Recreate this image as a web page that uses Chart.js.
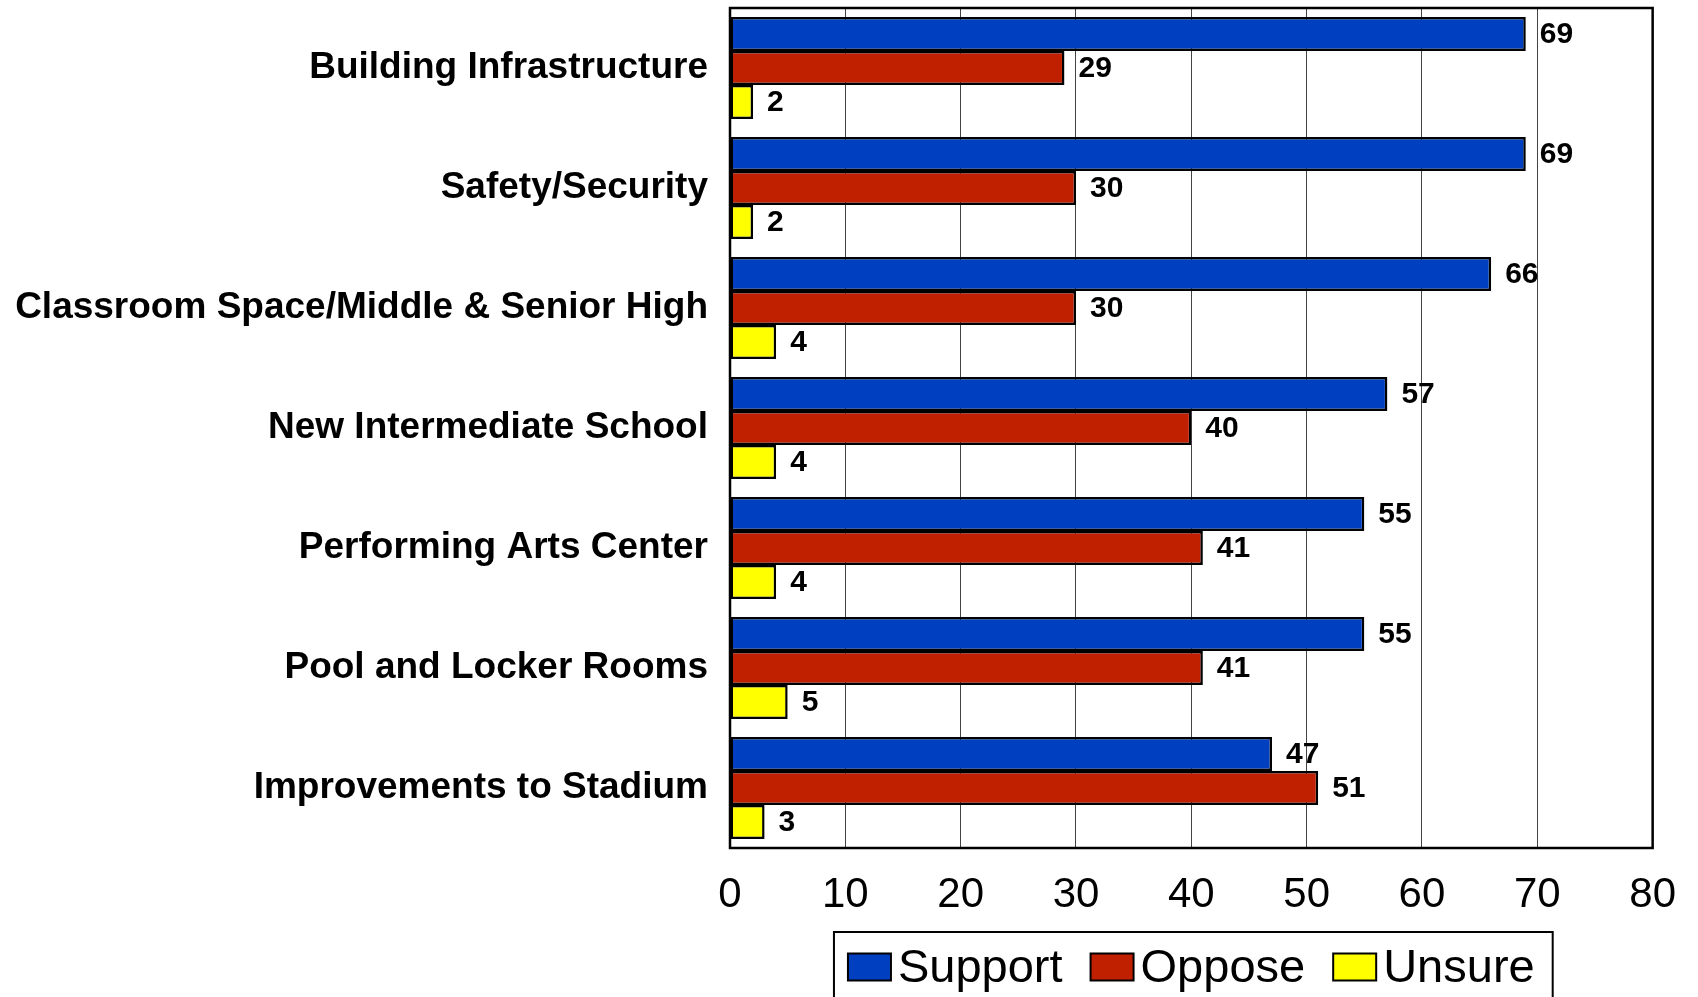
<!DOCTYPE html>
<html>
<head>
<meta charset="utf-8">
<script src="https://cdn.jsdelivr.net/npm/chart.js@4/dist/chart.umd.min.js"></script>
<style>
  body { margin: 0; background: #fff; }
  canvas { display: block; }
</style>
</head>
<body>
<canvas id="grafico" width="1698" height="997"></canvas>
<script>
// categorias e resultados (%)
const categorias = [
    "Building Infrastructure",
    "Safety/Security",
    "Classroom Space/Middle & Senior High",
    "New Intermediate School",
    "Performing Arts Center",
    "Pool and Locker Rooms",
    "Improvements to Stadium",
];
const support = [69, 69, 66, 57, 55, 55, 47];
const oppose = [29, 30, 30, 40, 41, 41, 51];
const unsure = [2, 2, 4, 4, 4, 5, 3];
const ticks_x = [0, 10, 20, 30, 40, 50, 60, 70, 80];

const fonte = "'Liberation Sans', Arial, sans-serif";

// moldura preta em volta da area do grafico
const moldura = {
    id: "moldura",
    afterDraw(chart) {
        const { ctx, chartArea: a } = chart;
        ctx.save();
        ctx.strokeStyle = "#000";
        ctx.lineWidth = 2.5;
        ctx.strokeRect(a.left, a.top, a.right - a.left, a.bottom - a.top);
        ctx.restore();
    },
};

// numeros ao lado de cada barra
const valores = {
    id: "valores",
    afterDatasetsDraw(chart) {
        const ctx = chart.ctx;
        ctx.save();
        ctx.font = "bold 30px " + fonte;
        ctx.fillStyle = "#000";
        ctx.textAlign = "left";
        ctx.textBaseline = "middle";
        chart.data.datasets.forEach((ds, i) => {
            chart.getDatasetMeta(i).data.forEach((bar, j) => {
                ctx.fillText(ds.data[j], bar.x + 14, bar.y + 1);
            });
        });
        ctx.restore();
    },
};

// legenda com caixa, abaixo do eixo
const legenda = {
    id: "legenda",
    afterDraw(chart) {
        const ctx = chart.ctx;
        const a = chart.chartArea;
        const caixaW = 43, caixaH = 27, gapTexto = 7, gapItem = 28;
        ctx.save();
        ctx.font = "47px " + fonte;
        const itens = chart.data.datasets.map((ds) => ({
            texto: ds.label,
            cor: ds.backgroundColor,
            w: caixaW + gapTexto + ctx.measureText(ds.label).width,
        }));
        const total = itens.reduce((s, it) => s + it.w, 0) + gapItem * (itens.length - 1);
        const centro = (a.left + a.right) / 2;
        let x = centro - total / 2;
        const yc = 967;
        ctx.strokeStyle = "#000";
        ctx.lineWidth = 2;
        ctx.strokeRect(x - 14, 932, total + 32, 80);
        ctx.textBaseline = "middle";
        ctx.textAlign = "left";
        itens.forEach((it) => {
            ctx.fillStyle = it.cor;
            ctx.fillRect(x, yc - caixaH / 2, caixaW, caixaH);
            ctx.strokeRect(x, yc - caixaH / 2, caixaW, caixaH);
            ctx.fillStyle = "#000";
            ctx.fillText(it.texto, x + caixaW + gapTexto, yc + 2);
            x += it.w + gapItem;
        });
        ctx.restore();
    },
};

new Chart("grafico", {
    type: "bar",
    data: {
        labels: categorias,
        datasets: [
            { label: "Support", data: support, backgroundColor: "#0040C0" },
            { label: "Oppose", data: oppose, backgroundColor: "#C02000" },
            { label: "Unsure", data: unsure, backgroundColor: "#FFFF00" },
        ],
    },
    options: {
        indexAxis: "y",
        responsive: false,
        animation: false,
        devicePixelRatio: 1,
        layout: {
            padding: { left: 0, right: 45, top: 8, bottom: 79 },
        },
        datasets: {
            bar: {
                borderColor: "#000",
                borderWidth: 2.5,
                borderSkipped: false,
                categoryPercentage: 0.85,
                barPercentage: 1.0,
            },
        },
        plugins: {
            legend: { display: false },
            tooltip: { enabled: false },
        },
        scales: {
            x: {
                min: 0,
                max: 80,
                afterBuildTicks: (scale) => {
                    scale.ticks = ticks_x.map((v) => ({ value: v }));
                },
                afterFit: (scale) => {
                    scale.height = 70;
                },
                grid: {
                    color: "#444",
                    lineWidth: 1,
                    drawTicks: false,
                },
                border: { display: false },
                ticks: {
                    color: "#000",
                    padding: 22,
                    font: { family: fonte, size: 42 },
                },
            },
            y: {
                afterFit: (scale) => {
                    scale.width = 730;
                    scale.paddingTop = 0;
                    scale.paddingBottom = 0;
                },
                grid: { display: false, drawTicks: false },
                border: { display: false },
                ticks: {
                    color: "#000",
                    padding: 22,
                    font: { family: fonte, size: 37, weight: "bold" },
                },
            },
        },
    },
    plugins: [moldura, valores, legenda],
});
</script>
</body>
</html>
